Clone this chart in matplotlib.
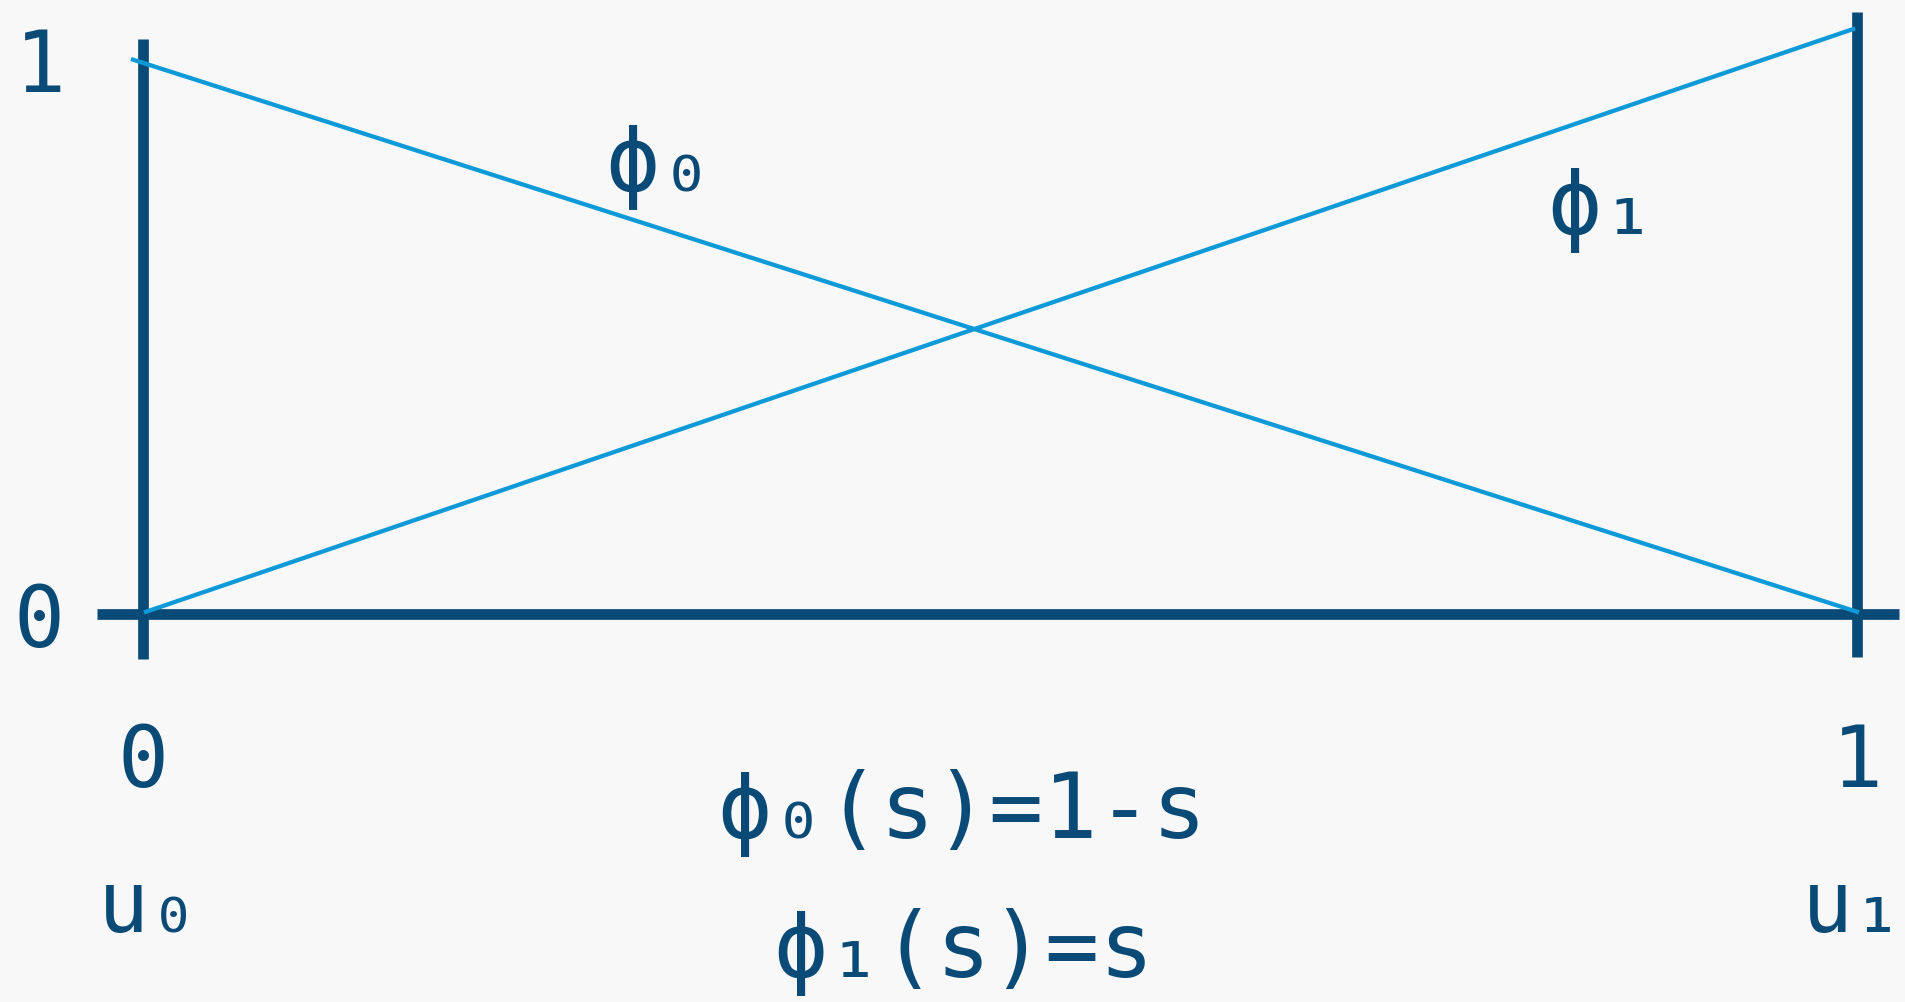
import matplotlib.pyplot as plt

# data (s on x, basis value on y)
s_phi0 = [-0.0058, 1.0]
phi0 = [0.997, 0.004]
s_phi1 = [0.0018, 0.9977]
phi1 = [0.004, 1.052]

node_pos = [0.0, 1.0]
node_ticks = ["0", "1"]
node_names = ["u\u2080", "u\u2081"]
y_ticks = [0.0, 1.0]
y_tick_labels = ["0", "1"]

formulas = ["\u03d5\u2080(s)=1-s", "\u03d5\u2081(s)=s"]
curve_labels = ["\u03d5\u2080", "\u03d5\u2081"]

dark = "#0a4a77"
light = "#0e9ad8"
bg = "#f8f8f8"

plt.rcParams["font.family"] = ["DejaVu Sans Mono", "DejaVu Sans"]

fig = plt.figure(figsize=(19.05, 10.02), dpi=100, facecolor=bg)
ax = fig.add_axes([0, 0, 1, 1])
ax.set_facecolor(bg)
ax.set_xlim(-0.0834, 1.028)
ax.set_ylim(-0.6978, 1.1043)
ax.axis("off")

# axes drawn by hand, like a whiteboard sketch
ax.plot([-0.0268, 1.0245], [0, 0], color=dark, lw=7.7, solid_capstyle="butt")
ax.plot([0, 0], [-0.081, 1.034], color=dark, lw=7.7, solid_capstyle="butt")
ax.plot([1, 1], [-0.077, 1.083], color=dark, lw=7.7, solid_capstyle="butt")

# the two basis functions
ax.plot(s_phi0, phi0, color=light, lw=3.1)
ax.plot(s_phi1, phi1, color=light, lw=3.1)

fs = 61
ax.text(-0.060, 0.939, y_tick_labels[1], color=dark, fontsize=fs,
        ha="center", va="baseline")
ax.text(-0.0607, -0.059, y_tick_labels[0], color=dark, fontsize=fs,
        ha="center", va="baseline")

for x, lab in zip(node_pos, node_ticks):
    ax.text(x, -0.311, lab, color=dark, fontsize=fs, ha="center", va="baseline")
ax.text(0.0032, -0.572, node_names[0], color=dark, fontsize=fs,
        ha="center", va="baseline")
# right-aligned so the label stays inside the picture
ax.text(1.0272, -0.572, node_names[1], color=dark, fontsize=fs,
        ha="right", va="baseline")

ax.text(0.270, 0.761, curve_labels[0], color=dark, fontsize=65,
        ha="left", va="baseline")
ax.text(0.819, 0.683, curve_labels[1], color=dark, fontsize=65,
        ha="left", va="baseline")

ax.text(0.478, -0.403, formulas[0], color=dark, fontsize=65,
        ha="center", va="baseline")
ax.text(0.479, -0.653, formulas[1], color=dark, fontsize=65,
        ha="center", va="baseline")

plt.savefig("out.png", dpi=100, facecolor=fig.get_facecolor())
